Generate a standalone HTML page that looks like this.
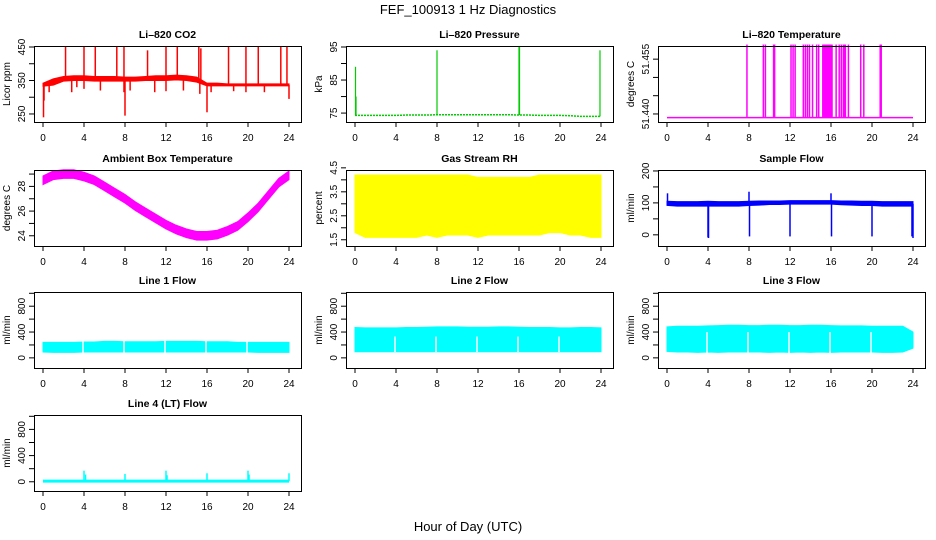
<!DOCTYPE html>
<html><head><meta charset="utf-8"><style>
html,body{margin:0;padding:0;background:#fff;}
svg{display:block;font-family:"Liberation Sans",sans-serif;}
</style></head><body>
<svg id="c" width="936" height="540" viewBox="0 0 936 540">
<text x="468" y="14" text-anchor="middle" font-size="13">FEF_100913  1 Hz Diagnostics</text>
<text x="468" y="531" text-anchor="middle" font-size="13">Hour of Day (UTC)</text>
</svg>
<script>
// ---- data ----
const hours = [0,1,2,3,4,5,6,7,8,9,10,11,12,13,14,15,16,17,18,19,20,21,22,23,24];
const xTicks = [0,4,8,12,16,20,24];
const co2Hi = [342,355,362,364,364,362,362,362,360,360,362,364,364,366,364,360,342,342,340,340,340,340,340,340,340];
const co2Lo = [333,336,348,350,350,348,348,348,348,348,350,350,350,352,350,345,334,334,334,334,334,334,334,334,334];
const co2SpikeT = [2.2,4.0,5.1,7.2,7.9,10.2,12.0,13.1,15.2,15.4,18.1,19.8,21.0,23.2,23.8,0.05,0.1,0.6,2.8,3.3,4.0,5.6,7.9,8.0,8.5,10.9,12.0,13.7,15.3,16.0,16.4,18.6,19.8,21.6,24.0];
const co2SpikeV = [450,450,450,450,450,440,452,450,450,446,450,452,450,450,450,240,290,315,315,330,325,320,315,245,320,315,318,320,310,255,315,318,315,315,295];
const presBase = [74.3,74.3,74.3,74.3,74.3,74.4,74.4,74.4,74.5,74.5,74.5,74.5,74.5,74.5,74.5,74.5,74.4,74.4,74.3,74.3,74.3,74.2,74.0,74.0,74.0];
const presSpikeT = [0.05,0.1,8.0,16.0,16.05,23.9];
const presSpikeV = [89,80,94,95,95,94];
const ltBase = 51.439;
const ltSpikeT = [7.8,9.4,9.6,10.4,10.5,12.1,12.3,12.5,13.3,13.5,13.7,13.9,14.2,14.6,14.8,15.2,15.3,15.4,15.5,15.6,15.7,15.8,15.9,16.0,16.1,16.5,16.8,17.0,17.2,17.3,17.4,17.7,18.9,19.2,20.8,20.9];
const ltSpikeV = [51.459,51.459,51.459,51.459,51.459,51.459,51.459,51.459,51.459,51.459,51.459,51.459,51.459,51.459,51.459,51.459,51.459,51.459,51.459,51.459,51.459,51.459,51.459,51.459,51.459,51.459,51.459,51.459,51.459,51.459,51.459,51.459,51.459,51.459,51.459,51.459];
const ambMid = [28.5,28.9,29.0,29.0,28.8,28.5,28.0,27.5,27.0,26.4,25.9,25.4,24.9,24.5,24.2,24.0,24.0,24.1,24.4,24.8,25.5,26.3,27.3,28.3,28.9];
const ambHalf = 0.35;
const rhHi = [4.2,4.2,4.2,4.2,4.2,4.2,4.2,4.2,4.2,4.2,4.2,4.2,4.1,4.1,4.1,4.1,4.1,4.1,4.2,4.2,4.2,4.2,4.2,4.2,4.2];
const rhLo = [1.8,1.6,1.6,1.6,1.6,1.6,1.6,1.7,1.6,1.7,1.7,1.7,1.6,1.7,1.7,1.7,1.7,1.7,1.7,1.8,1.8,1.7,1.7,1.6,1.6];
const sfHi = [105,104,104,104,105,104,104,104,105,106,106,106,107,107,107,107,107,106,106,105,105,104,104,104,104];
const sfLo = [92,90,90,90,90,90,90,90,92,93,95,95,96,96,96,96,96,94,93,92,92,90,90,90,90];
const sfSpikeT = [0.05,4.0,4.05,8.0,8.05,12.0,16.0,16.05,20.0,24.0,23.9];
const sfSpikeV = [130,-8,-10,135,-5,-5,130,-5,-5,-10,-5];
const l1Hi = [240,240,240,240,245,245,255,255,250,250,250,250,255,255,255,255,250,250,250,240,240,240,240,240,240];
const l1Lo = [90,85,85,85,90,90,90,90,90,90,90,90,90,90,90,90,90,90,90,90,90,85,85,85,85];
const l2Hi = [470,465,465,465,465,470,470,475,480,480,480,475,475,475,480,480,475,470,470,470,465,465,470,470,465];
const l2Lo = [95,95,95,95,95,95,95,95,95,95,95,95,95,95,95,95,95,95,95,95,95,95,95,95,95];
const l3Hi = [480,490,490,490,495,500,505,505,500,500,505,505,500,500,505,505,500,495,495,495,490,490,490,490,400];
const l3Lo = [100,90,90,85,90,85,90,90,90,90,85,90,85,90,85,90,85,90,90,90,90,85,85,90,150];
const l4Base = 10;
const l4SpikeT = [4.0,4.15,8.0,12.0,12.1,16.0,20.0,20.1,24.0];
const l4SpikeV = [170,110,120,170,100,130,170,110,130];
const gapT = [4,8,12,16,20];

// ---- layout ----
const NS = 'http://www.w3.org/2000/svg';
const svg = document.getElementById('c');
const colL = [34,346,658], rowT = [46,170,292,415], W = 267, H = 76;
function el(tag, attrs, parent){const e=document.createElementNS(NS,tag);for(const k in attrs)e.setAttribute(k,attrs[k]);(parent||svg).appendChild(e);return e;}
function panel(name, col, row, title, ylab, ymin, ymax, ticks, labels){
  const L=colL[col], T=rowT[row];
  const g=el('g',{});
  
  
  const sx=t=>L+9+t*(246/24);
  const sy=v=>T+H-(v-ymin)/(ymax-ymin)*H;
  const tt=el('text',{x:L+W/2,y:T-8,'text-anchor':'middle','font-size':10.5,'font-weight':'bold'},g);
  tt.textContent=title;
  
  
  const yl=el('text',{x:0,y:0,'text-anchor':'middle','font-size':10,transform:`translate(${L-24},${T+H/2}) rotate(-90)`},g);
  yl.textContent=ylab;
  
  
  const data=el('g',{},g);
  
  
  const ax=el('g',{stroke:'#000','stroke-width':1,fill:'none'},g);
  
  
  el('rect',{x:L+0.5,y:T+0.5,width:W,height:H},ax);
  xTicks.forEach(t=>{
    el('line',{x1:sx(t),x2:sx(t),y1:T+H,y2:T+H+5},ax);
    const tx=el('text',{x:sx(t),y:T+H+19,'text-anchor':'middle','font-size':10,fill:'#000',stroke:'none'},g);
    tx.textContent=t;
    
    
  });
  ticks.forEach(v=>{el('line',{x1:L-5,x2:L,y1:sy(v),y2:sy(v)},ax);});
  labels.forEach(v=>{
    const ty=el('text',{x:0,y:0,'text-anchor':'middle','font-size':10,transform:`translate(${L-9},${sy(v)}) rotate(-90)`},g);
    ty.textContent=v;
    
    
  });
  return {sx,sy,g:data,T,L};
}
function band(p,hi,lo,color){
  let d='M'+hours.map((h,i)=>p.sx(h)+','+p.sy(hi[i])).join('L')+'L'+hours.slice().reverse().map((h,j)=>p.sx(h)+','+p.sy(lo[hours.length-1-j])).join('L')+'Z';
  const b=el('path',{d,fill:color,stroke:color,'stroke-width':1},p.g);
  
  
}
function spikes(p,ts,vs,baseFn,color,w){
  ts.forEach((t,i)=>{
    const s=el('line',{x1:p.sx(t),x2:p.sx(t),y1:p.sy(baseFn(t)),y2:p.sy(vs[i]),stroke:color,'stroke-width':w||1.5},p.g);
    
    
  });
}
function gaps(p,lo,hi){
  gapT.forEach(t=>{
    const r=el('line',{x1:p.sx(t)-1,x2:p.sx(t)-1,y1:p.sy(hi),y2:p.sy(lo),stroke:'#fff','stroke-width':1.5},p.g);
    
    
  });
}
const interp=(arr)=>t=>{const i=Math.min(23,Math.floor(t));const f=t-i;return arr[i]*(1-f)+arr[i+1]*f;};
const mid=(a,b)=>a.map((v,i)=>(v+b[i])/2);

let p=panel('co2',0,0,'Li\u2013820 CO2','Licor ppm',226,453,[250,300,350,400,450],[250,350,450]);
band(p,co2Hi,co2Lo,'#ff0000'); spikes(p,co2SpikeT,co2SpikeV,interp(mid(co2Hi,co2Lo)),'#ff0000',1.5);
p=panel('pressure',1,0,'Li\u2013820 Pressure','kPa',72.3,95.3,[75,80,85,90,95],[75,85,95]);
const pl=el('polyline',{points:hours.map((h,i)=>p.sx(h)+','+p.sy(presBase[i])).join(' '),fill:'none',stroke:'#00cc00','stroke-width':1.5,'stroke-dasharray':'2,1'},p.g);


spikes(p,presSpikeT,presSpikeV,interp(presBase),'#00cc00',1.2);
p=panel('li-temperature',2,0,'Li\u2013820 Temperature','degrees C',51.4378,51.4586,[51.440,51.445,51.450,51.455],['51.440','51.455']);
const lt=el('line',{x1:p.sx(0),x2:p.sx(24),y1:p.sy(ltBase),y2:p.sy(ltBase),stroke:'#ff00ff','stroke-width':1.5},p.g);


spikes(p,ltSpikeT,ltSpikeV,()=>ltBase,'#ff00ff',1.5);
p=panel('ambient-temperature',0,1,'Ambient Box Temperature','degrees C',23.17,29.33,[24,25,26,27,28,29],[24,26,28]);
band(p,ambMid.map(v=>v+ambHalf),ambMid.map(v=>v-ambHalf),'#ff00ff');
p=panel('gas-rh',1,1,'Gas Stream RH','percent',1.24,4.41,[1.5,2,2.5,3,3.5,4,4.5],[1.5,2.5,3.5,4.5]);
band(p,rhHi,rhLo,'#ffff00');
p=panel('sample-flow',2,1,'Sample Flow','ml/min',-35,203,[0,50,100,150,200],[0,100,200]);
band(p,sfHi,sfLo,'#0000ff'); spikes(p,sfSpikeT,sfSpikeV,interp(mid(sfHi,sfLo)),'#0000ff',1.5);
const ft=[0,200,400,600,800,1000], fl=[0,400,800];
p=panel('line1-flow',0,2,'Line 1 Flow','ml/min',-157,1020,ft,fl); band(p,l1Hi,l1Lo,'#00ffff'); gaps(p,80,260);
p=panel('line2-flow',1,2,'Line 2 Flow','ml/min',-157,1020,ft,fl); band(p,l2Hi,l2Lo,'#00ffff'); gaps(p,90,330);
p=panel('line3-flow',2,2,'Line 3 Flow','ml/min',-157,1020,ft,fl); band(p,l3Hi,l3Lo,'#00ffff'); gaps(p,60,400);
p=panel('line4-flow',0,3,'Line 4 (LT) Flow','ml/min',-141,1020,ft,fl);
const l4=el('line',{x1:p.sx(0),x2:p.sx(24),y1:p.sy(l4Base),y2:p.sy(l4Base),stroke:'#00ffff','stroke-width':3},p.g);


spikes(p,l4SpikeT,l4SpikeV,()=>l4Base,'#00ffff',1.5);
</script>
</body></html>
